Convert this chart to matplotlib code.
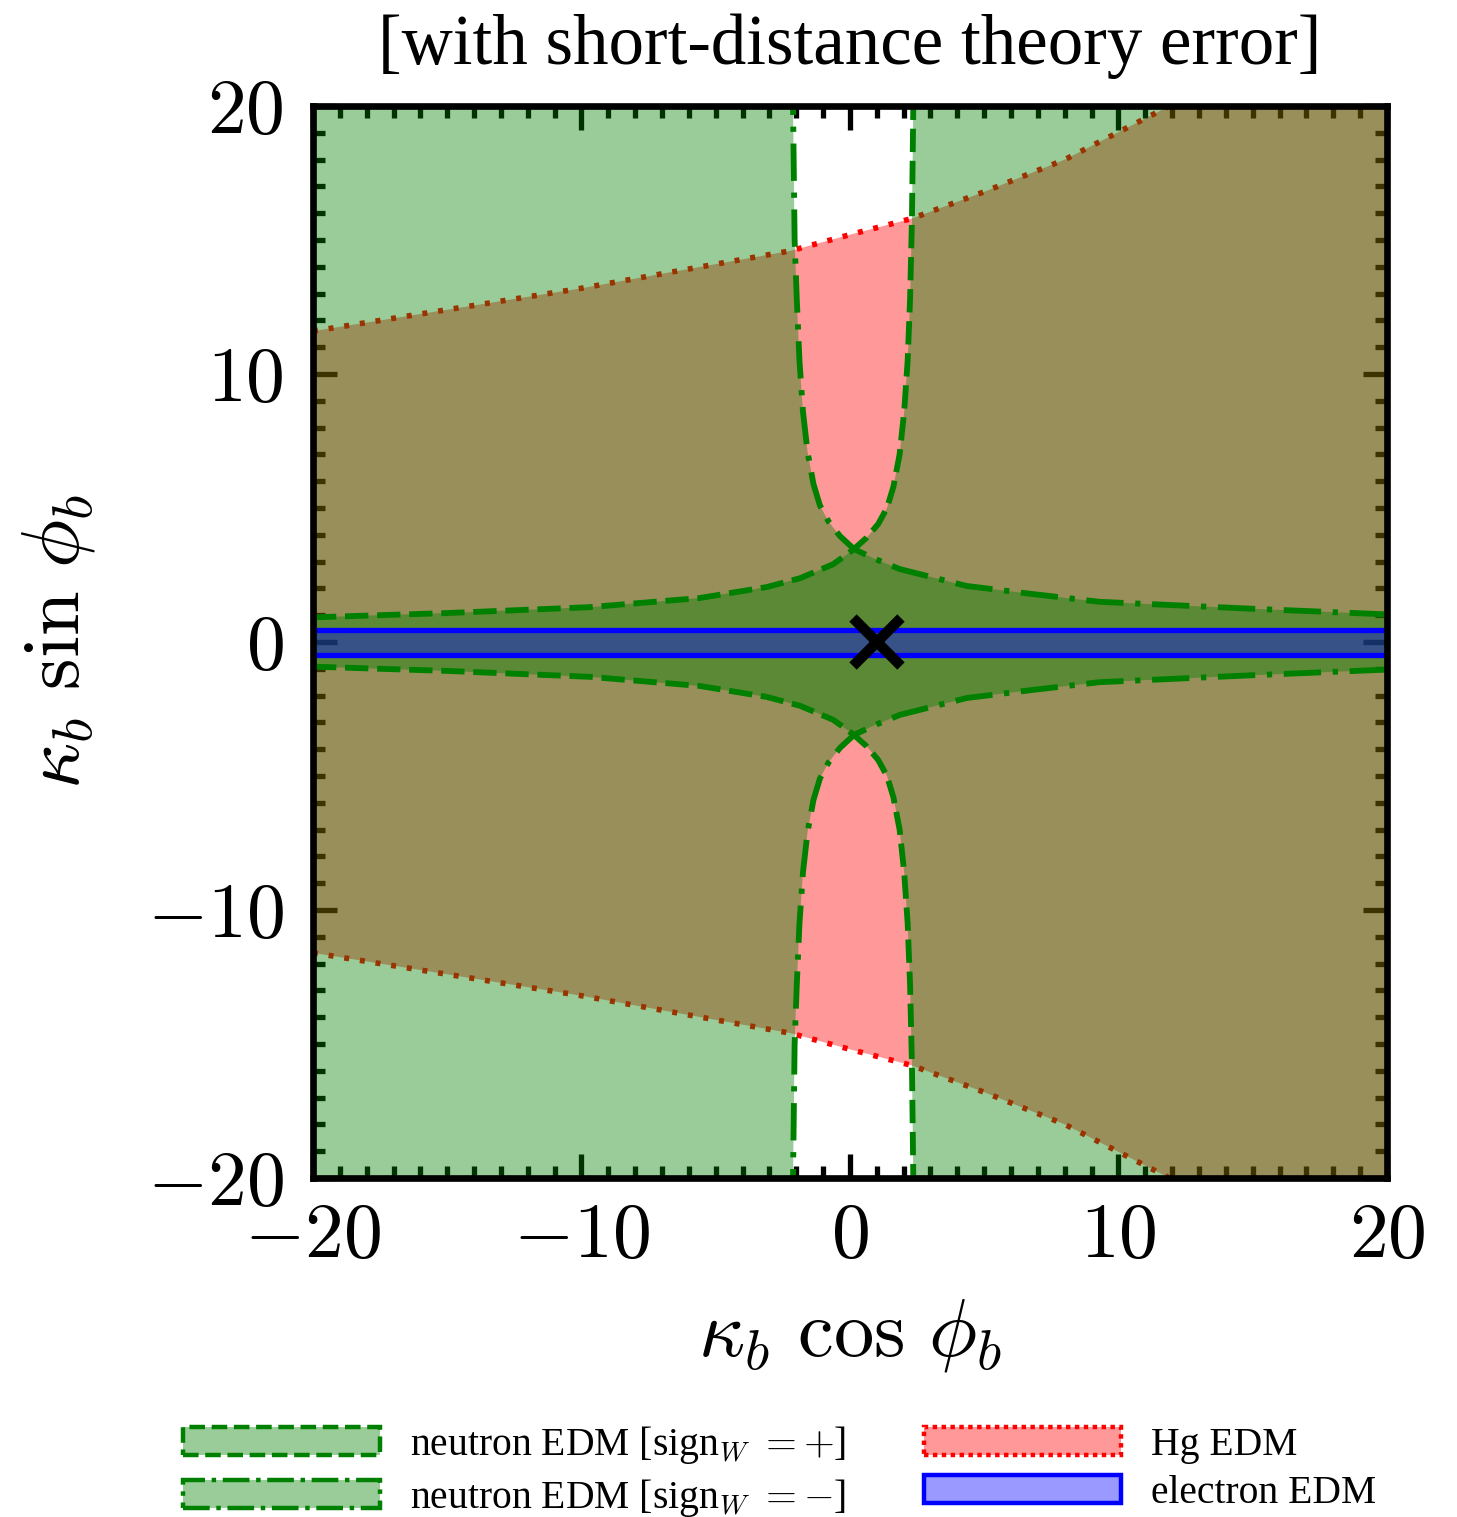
import numpy as np
import matplotlib
matplotlib.use("Agg")
import matplotlib.pyplot as plt
from matplotlib.patches import Patch
from matplotlib.ticker import MultipleLocator, FuncFormatter

plt.rcParams["mathtext.fontset"] = "cm"
plt.rcParams["font.family"] = ["Liberation Serif", "DejaVu Serif"]

# ---------------- data ----------------
# Hg EDM allowed band: |kappa sin phi| < hg_half(kappa cos phi)
hg_x = np.array([-20, -15, -10, -5, -2.2, 0, 2.3, 5, 8, 11.9, 15, 21])
hg_half = np.array([11.6, 12.4, 13.2, 14.1, 14.6, 15.2, 15.8, 16.8, 18.0, 20.0, 21.8, 25.2])

# neutron EDM, sign_W = + : upper boundary branch (lower branch is its mirror)
nplus_x = np.array([-20, -15, -9.7, -5.6, -3.1, -1.86, -0.63, -0.1, 0.15, 0.63,
                    1.05, 1.38, 1.62, 1.85, 2.02, 2.15, 2.24, 2.31, 2.36, 2.38])
nplus_y = np.array([0.92, 1.08, 1.30, 1.64, 2.05, 2.38, 2.90, 3.28, 3.47, 3.90,
                    4.40, 5.00, 5.80, 7.00, 8.60, 10.5, 12.8, 15.8, 20.0, 21.0])

# neutron EDM, sign_W = - : upper boundary branch (lower branch is its mirror)
nminus_x = np.array([20, 15, 9.3, 6.8, 4.35, 1.86, 0.86, 0.15, -0.37, -0.80,
                     -1.12, -1.36, -1.58, -1.75, -1.88, -1.98, -2.06, -2.12, -2.13])
nminus_y = np.array([1.03, 1.24, 1.50, 1.79, 2.09, 2.72, 3.13, 3.47, 3.95, 4.50,
                     5.10, 5.90, 7.10, 8.60, 10.5, 12.8, 15.0, 20.0, 21.0])

# electron EDM allowed band
e_x = np.array([-20, 20])
e_lo = np.array([-0.50, -0.50])
e_hi = np.array([0.45, 0.45])

# Standard-model point
sm_x = [1.0]
sm_y = [0.0]

tick_vals = [-20, -10, 0, 10, 20]
legend_labels = [r"neutron EDM [sign$_W$ $= +$]", r"neutron EDM [sign$_W$ $= -$]",
                 "Hg EDM", "electron EDM"]

# ---------------- figure ----------------
fig = plt.figure(figsize=(14.57, 15.17), dpi=100)
ax = fig.add_axes([0.2148, 0.2235, 0.7371, 0.7066])
ax.set_xlim(-20, 20)
ax.set_ylim(-20, 20)
ax.set_axisbelow(True)

green_fill = (0, 0.5, 0, 0.4)
red_fill = (1, 0, 0, 0.4)
blue_fill = (0, 0, 1, 0.4)
lw = 4.2
dash = (0, (4.0, 1.5))
dashdot = (0, (6.4, 2.0, 0.9, 2.0))
dot = (0, (0.9, 1.95))

# Hg region
ax.fill_between(hg_x, -hg_half, hg_half, facecolor=red_fill, lw=0, zorder=1.0)
ax.plot(hg_x, hg_half, color="red", lw=4.0, ls=dot, dash_capstyle="butt", zorder=1.1)
ax.plot(hg_x, -hg_half, color="red", lw=4.0, ls=dot, dash_capstyle="butt", zorder=1.1)

# neutron sign +
px = np.concatenate([nplus_x, [25, 25], nplus_x[::-1]])
py = np.concatenate([nplus_y, [25, -25], -nplus_y[::-1]])
ax.fill(px, py, facecolor=green_fill, lw=0, zorder=1.2)
# neutron sign -
mx = np.concatenate([nminus_x, [-25, -25], nminus_x[::-1]])
my = np.concatenate([nminus_y, [25, -25], -nminus_y[::-1]])
ax.fill(mx, my, facecolor=green_fill, lw=0, zorder=1.3)

for s in (1, -1):
    ax.plot(nplus_x, s * nplus_y, color="green", lw=lw, ls=dash, zorder=1.5)
    ax.plot(nminus_x, s * nminus_y, color="green", lw=lw, ls=dashdot, zorder=1.5)

# electron band
ax.fill_between(e_x, e_lo, e_hi, facecolor=blue_fill, lw=0, zorder=1.6)
ax.plot(e_x, e_lo, color="blue", lw=3.8, zorder=1.7)
ax.plot(e_x, e_hi, color="blue", lw=3.8, zorder=1.7)

# SM point
ax.plot(sm_x, sm_y, marker="x", color="black", ms=35, mew=7.5, ls="none", zorder=3)

# frame and ticks
for sp in ax.spines.values():
    sp.set_linewidth(4.8)
ax.xaxis.set_minor_locator(MultipleLocator(1))
ax.yaxis.set_minor_locator(MultipleLocator(1))
ax.set_xticks(tick_vals)
ax.set_yticks(tick_vals)
fmt = FuncFormatter(lambda v, p: r"$%d$" % int(round(v)))
ax.xaxis.set_major_formatter(fmt)
ax.yaxis.set_major_formatter(fmt)
ax.tick_params(which="both", direction="in", top=True, right=True,
               color="black", width=3.8)
ax.tick_params(which="major", length=17)
ax.tick_params(which="minor", length=8.6)
ax.tick_params(axis="x", which="major", labelsize=56, pad=18)
ax.tick_params(axis="y", which="major", labelsize=56, pad=21)

ax.set_xlabel(r"$\kappa_b\ \cos\,\phi_b$", fontsize=58, labelpad=16)
ax.set_ylabel(r"$\kappa_b\ \sin\,\phi_b$", fontsize=58, labelpad=36)
ax.set_title("[with short-distance theory error]", fontsize=51, pad=30)

# legend
handles = [
    Patch(facecolor="#99cc99", edgecolor="green", lw=3.2, ls=(0, (3.5, 1.5))),
    Patch(facecolor="#99cc99", edgecolor="green", lw=3.2, ls=(0, (6, 1.5, 1, 1.5))),
    Patch(facecolor="#ff9999", edgecolor="red", lw=3.2, ls=(0, (1, 1))),
    Patch(facecolor="#9999ff", edgecolor="blue", lw=3.2, ls="-"),
]
fig.legend(handles, legend_labels, ncol=2, loc="upper left",
           bbox_to_anchor=(0.1256, 0.0615), frameon=False, fontsize=28.5,
           handlelength=4.97, handleheight=0.71, handletextpad=0.76,
           labelspacing=0.28, columnspacing=1.97, borderpad=0, borderaxespad=0)

fig.savefig("out.png", dpi=100)
